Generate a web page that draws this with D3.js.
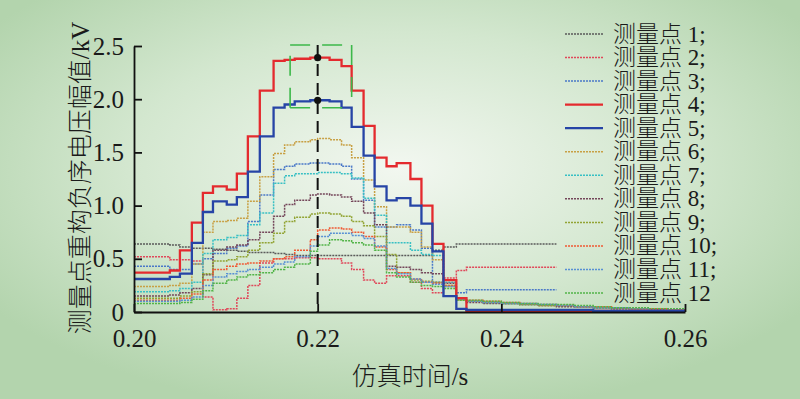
<!DOCTYPE html>
<html>
<head>
<meta charset="utf-8">
<script src="https://cdn.jsdelivr.net/npm/d3@7"></script>
<style>
body{margin:0;background:#fff;}
svg{display:block;}
</style>
</head>
<body>
<script>
// step start times (s), each series holds one value per step
var stepT = [0.2000,0.2039,0.2050,0.2063,0.2075,0.2086,0.2101,0.2112,0.2124,0.2137,
             0.2152,0.2164,0.2175,0.2192,0.2200,0.2213,0.2226,0.2237,0.2250,0.2262,
             0.2275,0.2286,0.2301,0.2313,0.2325,0.2337,0.2351,0.2362,
             0.2380,0.2400,0.2420,0.2440,0.2460,0.2480,0.2500,0.2520,0.2540,0.2560,0.2580];
var endT = 0.26;

var s1 = [0.64,0.63,0.61,0.60,0.60,0.59,0.58,0.57,0.56,0.56,0.55,0.54,0.53,0.53,0.53,0.53,0.53,0.53,0.53,0.53,
          0.53,0.53,0.53,0.53,0.58,0.61,0.64,0.64, 0.64,0.64,0.64,0.64,null,null,null,null,null,null,null];
var s2 = [0.52,0.49,0.49,0.48,0.14,0.02,0.03,0.13,0.25,0.46,0.50,0.50,0.51,0.51,0.50,0.50,0.46,0.40,0.30,0.27,
          0.34,0.34,0.28,0.22,0.18,0.32,0.39,0.42, 0.42,0.42,0.42,0.42,null,null,null,null,null,null,null];
var s3 = [0.43,0.40,0.40,0.45,0.50,0.55,0.60,0.62,0.85,1.10,1.34,1.37,1.39,1.40,1.40,1.39,1.37,1.25,1.05,0.80,
          0.80,0.82,0.77,0.60,0.28,0.15,0.18,0.21, 0.21,0.21,0.21,0.21,null,null,null,null,null,null,null];
var s4 = [0.37,0.39,0.58,0.84,1.12,1.18,1.15,1.30,1.65,2.08,2.36,2.37,2.38,2.39,2.39,2.37,2.31,2.08,1.75,1.45,
          1.37,1.40,1.25,1.00,0.64,0.30,0.13,0.01, 0.01,0.01,0.01,0.01,0.01,0.01,0.01,0.01,0.01,0.01,0.01];
var s5 = [0.31,0.33,0.36,0.65,0.94,1.04,1.01,1.08,1.32,1.65,1.92,1.95,1.98,1.99,1.99,1.98,1.92,1.74,1.47,1.18,
          1.05,1.07,1.00,0.83,0.57,0.15,0.03,0.02, 0.02,0.02,0.02,0.02,0.02,0.02,0.01,0.01,0.01,0.01,0.01];
var s6 = [0.24,0.25,0.27,0.45,0.75,0.85,0.86,0.88,1.04,1.27,1.49,1.57,1.60,1.62,1.63,1.62,1.57,1.45,1.24,0.99,
          0.80,0.80,0.75,0.61,0.49,0.24,0.11,0.10, 0.09,0.08,0.07,0.06,0.06,0.05,0.04,0.04,0.03,0.03,0.02];
var s7 = [0.19,0.20,0.22,0.28,0.55,0.68,0.70,0.72,0.82,0.93,1.21,1.28,1.30,1.30,1.31,1.31,1.30,1.26,1.07,0.91,
          0.65,0.65,0.58,0.54,0.53,0.28,0.13,0.10, 0.09,0.08,0.07,0.07,0.06,0.05,0.04,0.03,0.03,0.02,0.02];
var s8 = [0.15,0.16,0.18,0.22,0.35,0.58,0.61,0.63,0.68,0.75,0.90,1.01,1.05,1.10,1.11,1.10,1.08,1.04,0.93,0.82,
          0.43,0.42,0.40,0.37,0.36,0.27,0.12,0.09, 0.08,0.08,0.07,0.06,0.05,0.05,0.04,0.03,0.03,0.02,0.02];
var s9 = [0.13,0.13,0.15,0.19,0.36,0.48,0.49,0.52,0.58,0.65,0.74,0.85,0.89,0.92,0.93,0.92,0.90,0.85,0.81,0.71,
          0.54,0.37,0.30,0.29,0.28,0.25,0.12,0.10, 0.09,0.08,0.07,0.06,0.06,0.05,0.04,0.04,0.03,0.03,0.02];
var s10 = [0.11,0.11,0.13,0.17,0.30,0.40,0.43,0.45,0.46,0.48,0.50,0.52,0.58,0.68,0.77,0.79,0.78,0.75,0.71,0.61,
           0.40,0.37,0.31,0.28,0.27,0.25,0.12,0.11, 0.10,0.09,0.08,0.07,0.06,0.05,0.05,0.04,0.03,0.03,0.02];
var s11 = [0.10,0.10,0.11,0.14,0.25,0.33,0.36,0.38,0.40,0.42,0.45,0.47,0.52,0.62,0.71,0.74,0.74,0.72,0.69,0.62,
           0.41,0.36,0.31,0.28,0.26,0.24,0.12,0.10, 0.09,0.08,0.08,0.07,0.06,0.05,0.04,0.04,0.03,0.02,0.02];
var s12 = [0.08,0.08,0.09,0.12,0.20,0.27,0.30,0.33,0.35,0.37,0.40,0.42,0.45,0.57,0.63,0.68,0.67,0.65,0.63,0.58,
           0.37,0.33,0.28,0.25,0.24,0.22,0.11,0.11, 0.10,0.09,0.08,0.07,0.07,0.06,0.05,0.04,0.04,0.03,0.03];

var names = ["测量点 1;","测量点 2;","测量点 3;","测量点 4;","测量点 5;","测量点 6;",
             "测量点 7;","测量点 8;","测量点 9;","测量点 10;","测量点 11;","测量点 12"];
var colors = ["#5a5a5a","#e0485a","#4a78c8","#e42a2e","#2644a6","#c8a044",
              "#38c0c4","#74465a","#92a434","#f05a34","#5890d4","#52b448"];
var solid = [false,false,false,true,true,false,false,false,false,false,false,false];

var xTicks = [0.20,0.22,0.24,0.26];
var yTicks = [0,0.5,1.0,1.5,2.0,2.5];
var peakT = 0.22;
var peakV = [2.39,1.99];
var boxT = [0.217,0.2237];
var boxV = [1.92,2.51];

var W = 800, H = 399;
var serif = "'Liberation Serif','Noto Sans CJK SC',serif";

var svg = d3.select("body").append("svg")
    .attr("width", W)
    .attr("height", H);

// background
var grad = svg.append("defs").append("radialGradient")
    .attr("id","bg").attr("cx","50%").attr("cy","42%").attr("r","62%");
grad.append("stop").attr("offset","0%").attr("stop-color","#f2f7f0");
grad.append("stop").attr("offset","55%").attr("stop-color","#d3e7cf");
grad.append("stop").attr("offset","100%").attr("stop-color","#b3d4ad");
svg.append("rect").attr("width",W).attr("height",H).attr("fill","url(#bg)");

var x = d3.scaleLinear().domain([0.20,0.26]).range([134,685]);
var y = d3.scaleLinear().domain([0,2.5]).range([312,46]);

var all = [s1,s2,s3,s4,s5,s6,s7,s8,s9,s10,s11,s12];
var series = all.map(function(vals,i){
	var pts = [];
	vals.forEach(function(v,k){
		var t1 = k+1 < stepT.length ? stepT[k+1] : endT;
		pts.push([stepT[k], v]);
		pts.push([t1, v]);
	});
	return {name:names[i], color:colors[i], solid:solid[i], pts:pts};
});

var line = d3.line()
    .defined(function(d){ return d[1] != null; })
    .x(function(d){ return x(d[0]); })
    .y(function(d){ return y(d[1]); });

// dotted first, solid on top
var order = series.filter(function(s){return !s.solid;}).concat(series.filter(function(s){return s.solid;}));
svg.append("g").selectAll("path")
    .data(order)
  .enter().append("path")
    .attr("d", function(d){ return line(d.pts); })
    .attr("fill","none")
    .attr("stroke", function(d){ return d.color; })
    .attr("stroke-width", function(d){ return d.solid ? 2.3 : 1.5; })
    .attr("stroke-dasharray", function(d){ return d.solid ? null : "2,1"; });

// peak marker box and dashed line
var bx0 = x(boxT[0]), bx1 = x(boxT[1]), by0 = y(boxV[1]), by1 = y(boxV[0]);
var box = svg.append("g").attr("stroke","#3cb84a").attr("stroke-width",1.6).attr("stroke-dasharray","20,12");
box.append("line").attr("x1",bx0).attr("x2",bx1).attr("y1",by0).attr("y2",by0);
box.append("line").attr("x1",bx0).attr("x2",bx1).attr("y1",by1).attr("y2",by1);
box.append("line").attr("x1",bx0).attr("x2",bx0).attr("y1",by1).attr("y2",by0);
box.append("line").attr("x1",bx1).attr("x2",bx1).attr("y1",by0).attr("y2",by1);

svg.append("line")
    .attr("x1",x(peakT)).attr("x2",x(peakT))
    .attr("y1",y(boxV[1])).attr("y2",y(0))
    .attr("stroke","#111").attr("stroke-width",2)
    .attr("stroke-dasharray","12,7");
svg.selectAll("circle.pk").data(peakV).enter().append("circle")
    .attr("class","pk")
    .attr("cx",x(peakT)).attr("cy",function(d){return y(d);})
    .attr("r",3.6).attr("fill","#111");

// axes
var yAxis = d3.axisLeft(y).tickValues(yTicks).tickSizeInner(-8).tickSizeOuter(0).tickPadding(10)
    .tickFormat(function(d){ return d === 0 ? "0" : d3.format(".1f")(d); });
var xAxis = d3.axisBottom(x).tickValues(xTicks).tickSizeInner(-8).tickSizeOuter(0).tickPadding(17)
    .tickFormat(d3.format(".2f"));

var gy = svg.append("g").attr("transform","translate(134,0)").call(yAxis);
var gx = svg.append("g").attr("transform","translate(0,312)").call(xAxis);
[gy,gx].forEach(function(g){
	g.selectAll("path,line").attr("stroke","#111").attr("stroke-width",1.8);
	g.selectAll("text").attr("font-family",serif).attr("font-size",25).attr("fill","#1a1a1a");
});

// axis titles
svg.append("text")
    .attr("transform","translate(80,178) rotate(-90)")
    .attr("text-anchor","middle")
    .attr("dominant-baseline","central")
    .attr("font-family",serif).attr("font-size",25).attr("font-weight",300)
    .attr("fill","#1a1a1a")
    .text("测量点重构负序电压幅值/kV");

svg.append("text")
    .attr("x",410).attr("y",385)
    .attr("text-anchor","middle")
    .attr("font-family",serif).attr("font-size",25).attr("font-weight",300)
    .attr("fill","#1a1a1a")
    .text("仿真时间/s");

// legend
var leg = svg.append("g").selectAll("g")
    .data(series)
  .enter().append("g")
    .attr("transform", function(d,i){ return "translate(565," + (34 + i*23.55) + ")"; });
leg.append("line")
    .attr("x1",0).attr("x2",38)
    .attr("stroke", function(d){ return d.color; })
    .attr("stroke-width", function(d){ return d.solid ? 2.3 : 1.5; })
    .attr("stroke-dasharray", function(d){ return d.solid ? null : "2,1"; });
leg.append("text")
    .attr("x",48)
    .attr("dominant-baseline","central")
    .attr("font-family",serif).attr("font-size",23).attr("font-weight",300)
    .attr("fill","#1a1a1a")
    .text(function(d){ return d.name; });
</script>
</body>
</html>
